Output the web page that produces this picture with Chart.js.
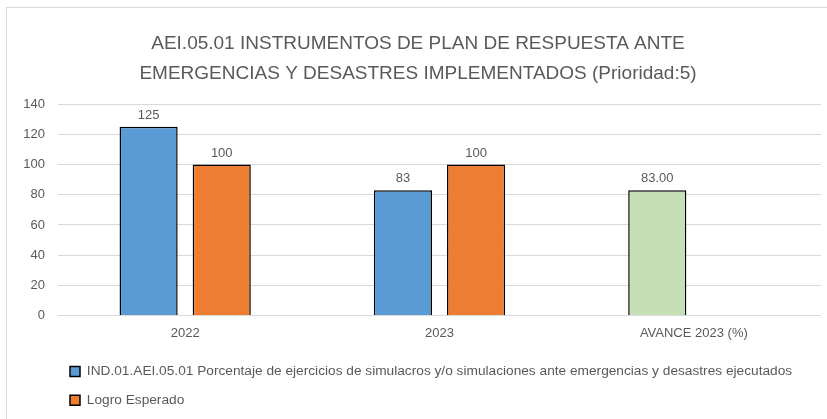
<!DOCTYPE html>
<html><head><meta charset="utf-8">
<script src="https://cdn.jsdelivr.net/npm/chart.js@4/dist/chart.umd.min.js"></script>
<style>
html,body{margin:0;padding:0;background:#fff;overflow:hidden;}
#wrap{position:absolute;left:6px;top:7px;width:821px;height:412px;border-left:1px solid #d9d9d9;border-top:1px solid #d9d9d9;}
canvas{display:block;}
</style></head><body>
<div id="wrap"><canvas id="c" width="821" height="412"></canvas></div>
<script>
const categories = ['2022', '2023', 'AVANCE 2023 (%)'];
const indicatorValues = [125, 83, 83];
const expectedValues = [100, 100, null];
const yTicks = [0, 20, 40, 60, 80, 100, 120, 140];
const titleLines = ['AEI.05.01 INSTRUMENTOS DE PLAN DE RESPUESTA ANTE', 'EMERGENCIAS Y DESASTRES IMPLEMENTADOS (Prioridad:5)'];
const seriesNames = ['IND.01.AEI.05.01 Porcentaje de ejercicios de simulacros y/o simulaciones ante emergencias y desastres ejecutados', 'Logro Esperado'];

const FONT = "'Liberation Sans', Arial, sans-serif";
const GRAY = '#595959';
const BLUE = '#5b9bd5', ORANGE = '#ed7d31', GREEN = '#c5e0b4';

const labelPlugin = {
  id: 'valueLabels',
  afterDatasetsDraw(chart) {
    const ctx = chart.ctx;
    ctx.save();
    ctx.font = '13px ' + FONT;
    ctx.fillStyle = GRAY;
    ctx.textAlign = 'center';
    ctx.textBaseline = 'middle';
    chart.data.datasets.forEach((ds, di) => {
      const meta = chart.getDatasetMeta(di);
      meta.data.forEach((el, i) => {
        const v = ds.data[i];
        if (v === null || v === undefined) return;
        const txt = (di === 0 && i === 2) ? v.toFixed(2) : String(v);
        ctx.fillText(txt, el.x, el.y - 11.5);
      });
    });
    ctx.restore();
  }
};

const legendShift = {
  id: 'legendShift',
  afterLayout(chart) {
    if (chart.legend) chart.legend.left = 48;
  }
};

new Chart(document.getElementById('c'), {
  type: 'bar',
  data: {
    labels: categories,
    datasets: [
      {
        label: seriesNames[0],
        data: indicatorValues,
        backgroundColor: (c) => (c.dataIndex === 2 ? GREEN : BLUE),
        borderColor: '#000',
        borderWidth: 1.5,
        borderSkipped: 'bottom'
      },
      {
        label: seriesNames[1],
        data: expectedValues,
        backgroundColor: ORANGE,
        borderColor: '#000',
        borderWidth: 1.5,
        borderSkipped: 'bottom'
      }
    ]
  },
  options: {
    responsive: false,
    animation: false,
    devicePixelRatio: 1,
    categoryPercentage: 0.575,
    barPercentage: 0.795,
    layout: { padding: { left: 8, right: 7, top: 12, bottom: 3 } },
    plugins: {
      title: {
        display: true,
        text: titleLines,
        color: GRAY,
        font: { family: FONT, size: 19, weight: 'normal', lineHeight: 1.58 },
        padding: { top: 9, bottom: 15 }
      },
      legend: {
        display: true,
        position: 'bottom',
        align: 'start',
        maxWidth: 760,
        labels: {
          color: GRAY,
          font: { family: FONT, size: 13.7 },
          boxWidth: 10,
          boxHeight: 10,
          padding: 15
        }
      },
      tooltip: { enabled: false }
    },
    scales: {
      x: {
        afterFit(scale) { scale.height = 34; },
        grid: { display: false, drawTicks: false },
        border: { display: false },
        ticks: { color: GRAY, font: { family: FONT, size: 13 }, padding: 10 }
      },
      y: {
        min: 0, max: 140,
        afterBuildTicks(scale) { scale.ticks = yTicks.map(v => ({ value: v })); },
        afterFit(scale) { scale.width = 43; },
        grid: { color: '#d9d9d9', lineWidth: 1, drawTicks: false },
        border: { display: false },
        ticks: { color: GRAY, font: { family: FONT, size: 13 }, padding: 13 }
      }
    }
  },
  plugins: [labelPlugin, legendShift]
});
</script>
</body></html>
